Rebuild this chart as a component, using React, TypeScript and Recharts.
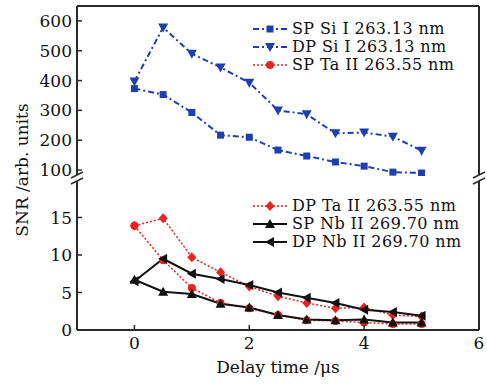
import { Line, LineChart, ReferenceLine, XAxis, YAxis } from "recharts";

// delay time (µs)
const delay = [0, 0.5, 1, 1.5, 2, 2.5, 3, 3.5, 4, 4.5, 5];

// upper panel (SNR, arb. units)
const spSi = [373, 353, 293, 217, 210, 167, 147, 127, 113, 93, 90];
const dpSi = [397, 578, 490, 444, 393, 300, 287, 223, 226, 212, 165];

// lower panel
const spTa = [13.9, 9.3, 5.6, 3.6, 2.9, 2.0, 1.3, 1.2, 1.0, 0.8, 0.8];
const dpTa = [13.9, 14.9, 9.7, 7.7, 5.8, 4.5, 3.6, 2.9, 3.0, 2.0, 1.8];
const spNb = [6.7, 5.1, 4.8, 3.5, 3.0, 2.0, 1.4, 1.3, 1.4, 1.0, 1.0];
const dpNb = [6.5, 9.5, 7.5, 6.8, 6.0, 5.0, 4.3, 3.6, 2.7, 2.4, 1.9];

const upperTicks = [100, 200, 300, 400, 500, 600];
const lowerTicks = [0, 5, 10, 15];
const xTicks = [0, 2, 4, 6];

const BLUE = "#1f3fb0";
const RED = "#e8231f";
const BLACK = "#111111";
const FRAME = "#2a2a2a";
const FONT = "'DejaVu Serif', 'Liberation Serif', serif";

const upperData = delay.map((t, i) => ({ t, spSi: spSi[i], dpSi: dpSi[i] }));
const lowerData = delay.map((t, i) => ({
    t,
    spTa: spTa[i],
    dpTa: dpTa[i],
    spNb: spNb[i],
    dpNb: dpNb[i],
}));

type Shape = "square" | "triDown" | "circle" | "diamond" | "triUp" | "triLeft";

function Marker({ shape, cx, cy, color }: { shape: Shape; cx: number; cy: number; color: string }) {
    if (cx == null || cy == null) return null;
    switch (shape) {
        case "square":
            return <rect x={cx - 3.5} y={cy - 3.5} width={7} height={7} fill={color} />;
        case "triDown":
            return <polygon points={`${cx - 5},${cy - 4} ${cx + 5},${cy - 4} ${cx},${cy + 5}`} fill={color} />;
        case "circle":
            return <circle cx={cx} cy={cy} r={4} fill={color} />;
        case "diamond":
            return <polygon points={`${cx},${cy - 5} ${cx + 4.5},${cy} ${cx},${cy + 5} ${cx - 4.5},${cy}`} fill={color} />;
        case "triUp":
            return <polygon points={`${cx - 5},${cy + 4} ${cx + 5},${cy + 4} ${cx},${cy - 5}`} fill={color} />;
        case "triLeft":
            return <polygon points={`${cx - 5},${cy} ${cx + 4},${cy - 5} ${cx + 4},${cy + 5}`} fill={color} />;
    }
    return null;
}

const dotFor = (shape: Shape, color: string) => (p: any) =>
    <Marker key={`${shape}-${p.index}`} shape={shape} cx={p.cx} cy={p.cy} color={color} />;

function YTick(props: any) {
    const { x, y, payload } = props;
    return (
        <g>
            <line x1={x + 5} x2={x + 10} y1={y} y2={y} stroke={FRAME} strokeWidth={1.5} />
            <text x={x} y={y} dy={6} textAnchor="end" fontFamily={FONT} fontSize={17} fill={BLACK}>
                {payload.value}
            </text>
        </g>
    );
}

function XTick(props: any) {
    const { x, y, payload } = props;
    return (
        <g>
            <line x1={x} x2={x} y1={y - 4} y2={y - 9} stroke={FRAME} strokeWidth={1.5} />
            <text x={x} y={y} dy={15} textAnchor="middle" fontFamily={FONT} fontSize={17} fill={BLACK}>
                {payload.value}
            </text>
        </g>
    );
}

const legendTop = [
    { name: "SP Si I 263.13 nm", color: BLUE, shape: "square" as Shape, dash: "6 3 2 3" },
    { name: "DP Si I 263.13 nm", color: BLUE, shape: "triDown" as Shape, dash: "6 3 2 3" },
    { name: "SP Ta II 263.55 nm", color: RED, shape: "circle" as Shape, dash: "2 2" },
];
const legendBottom = [
    { name: "DP Ta II 263.55 nm", color: RED, shape: "diamond" as Shape, dash: "2 2" },
    { name: "SP Nb II 269.70 nm", color: BLACK, shape: "triUp" as Shape, dash: undefined },
    { name: "DP Nb II 269.70 nm", color: BLACK, shape: "triLeft" as Shape, dash: undefined },
];

function LegendBox({ items, top, rowH }: { items: typeof legendTop; top: number; rowH: number }) {
    return (
        <div style={{ position: "absolute", left: 252, top, fontFamily: FONT, fontSize: 16, letterSpacing: 0.4, color: BLACK }}>
            {items.map((it) => (
                <div key={it.name} style={{ display: "flex", alignItems: "center", height: rowH, whiteSpace: "nowrap" }}>
                    <svg width={38} height={rowH} style={{ marginRight: 2 }}>
                        <line
                            x1={1}
                            x2={35}
                            y1={rowH / 2}
                            y2={rowH / 2}
                            stroke={it.color}
                            strokeWidth={it.dash === "2 2" ? 1.5 : 2}
                            strokeDasharray={it.dash}
                        />
                        <Marker shape={it.shape} cx={18} cy={rowH / 2} color={it.color} />
                    </svg>
                    <span style={{ lineHeight: `${rowH}px`, height: rowH }}>{it.name}</span>
                </div>
            ))}
        </div>
    );
}

export default function App() {
    return (
        <div style={{ position: "absolute", left: 0, top: 0, width: 487, height: 384, background: "#fff" }}>
            <div style={{ position: "absolute", left: 0, top: 0 }}>
                <LineChart width={487} height={180} data={upperData} margin={{ top: 6, right: 8, left: 0, bottom: 4 }}>
                    <XAxis dataKey="t" type="number" domain={[-1, 6]} hide />
                    <YAxis
                        domain={[80, 650]}
                        ticks={upperTicks}
                        width={77}
                        allowDataOverflow
                        axisLine={{ stroke: FRAME, strokeWidth: 2 }}
                        tickLine={false}
                        tickSize={0}
                        tickMargin={5}
                        tick={<YTick />}
                    />
                    <ReferenceLine y={650} stroke={FRAME} strokeWidth={2} />
                    <ReferenceLine x={6} stroke={FRAME} strokeWidth={2} />
                    <Line dataKey="spSi" stroke={BLUE} strokeWidth={2} strokeDasharray="6 3 2 3"
                          dot={dotFor("square", BLUE)} isAnimationActive={false} />
                    <Line dataKey="dpSi" stroke={BLUE} strokeWidth={2} strokeDasharray="6 3 2 3"
                          dot={dotFor("triDown", BLUE)} isAnimationActive={false} />
                </LineChart>
            </div>

            <div style={{ position: "absolute", left: 0, top: 176 }}>
                <LineChart width={487} height={208} data={lowerData} margin={{ top: 4, right: 8, left: 0, bottom: 4 }}>
                    <XAxis
                        dataKey="t"
                        type="number"
                        domain={[-1, 6]}
                        ticks={xTicks}
                        height={50}
                        axisLine={{ stroke: FRAME, strokeWidth: 2 }}
                        tickLine={false}
                        tickSize={0}
                        tickMargin={4}
                        tick={<XTick />}
                        label={{
                            value: "Delay time /μs",
                            position: "insideBottom",
                            offset: 7,
                            fontFamily: FONT,
                            fontSize: 17,
                            fill: BLACK,
                        }}
                    />
                    <YAxis
                        domain={[0, 20]}
                        ticks={lowerTicks}
                        width={77}
                        allowDataOverflow
                        axisLine={{ stroke: FRAME, strokeWidth: 2 }}
                        tickLine={false}
                        tickSize={0}
                        tickMargin={5}
                        tick={<YTick />}
                    />
                    <ReferenceLine x={6} stroke={FRAME} strokeWidth={2} />
                    <Line dataKey="spTa" stroke={RED} strokeWidth={1.5} strokeDasharray="2 2"
                          dot={dotFor("circle", RED)} isAnimationActive={false} />
                    <Line dataKey="dpTa" stroke={RED} strokeWidth={1.5} strokeDasharray="2 2"
                          dot={dotFor("diamond", RED)} isAnimationActive={false} />
                    <Line dataKey="spNb" stroke={BLACK} strokeWidth={2}
                          dot={dotFor("triUp", BLACK)} isAnimationActive={false} />
                    <Line dataKey="dpNb" stroke={BLACK} strokeWidth={2}
                          dot={dotFor("triLeft", BLACK)} isAnimationActive={false} />
                </LineChart>
            </div>

            <LegendBox items={legendTop} top={20} rowH={18} />
            <LegendBox items={legendBottom} top={197} rowH={18} />

            {/* axis break marks and the shared y label */}
            <svg width={487} height={384} style={{ position: "absolute", left: 0, top: 0, pointerEvents: "none" }}>
                <rect x={74} y={175} width={6} height={6} fill="#fff" />
                <rect x={476} y={175} width={6} height={6} fill="#fff" />
                {[77, 479].map((ax) => (
                    <g key={ax} stroke={FRAME} strokeWidth={1.5}>
                        <line x1={ax - 6} y1={178} x2={ax + 6} y2={172} />
                        <line x1={ax - 6} y1={184} x2={ax + 6} y2={178} />
                    </g>
                ))}
                <text
                    x={22}
                    y={170}
                    transform="rotate(-90 22 170)"
                    textAnchor="middle"
                    dominantBaseline="central"
                    fontFamily={FONT}
                    fontSize={17}
                    fill={BLACK}
                >
                    SNR /arb. units
                </text>
            </svg>
        </div>
    );
}
